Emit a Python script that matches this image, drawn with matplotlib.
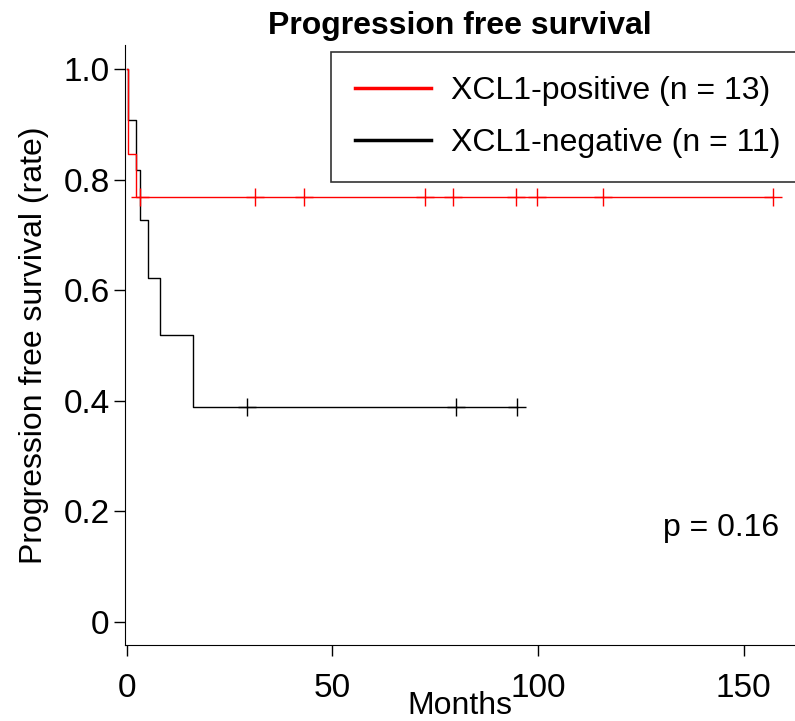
import matplotlib
matplotlib.use('Agg')
import matplotlib.pyplot as plt

plt.rcParams['font.family'] = ['Liberation Sans', 'DejaVu Sans']

# step curves (time in months, survival rate)
pos_times = [0, 0.3, 2.1, 157.1]
pos_surv = [1.0, 0.846, 0.769, 0.769]
neg_times = [0, 0.3, 2.1, 3.1, 5.2, 8.1, 16.0, 95.0]
neg_surv = [1.0, 0.909, 0.818, 0.727, 0.623, 0.519, 0.389, 0.389]

# censored observations
pos_cens_t = [3.2, 31.1, 43.2, 72.5, 79.4, 94.6, 99.7, 115.8, 157.1]
pos_cens_s = [0.769] * len(pos_cens_t)
neg_cens_t = [29.1, 80.1, 95.0]
neg_cens_s = [0.389] * len(neg_cens_t)

labels = ['XCL1-positive (n = 13)', 'XCL1-negative (n = 11)']
colors = ['#ff0000', 'black']
xticks = [0, 50, 100, 150]
yticks = [0, 0.2, 0.4, 0.6, 0.8, 1.0]
yticklabels = ['0', '0.2', '0.4', '0.6', '0.8', '1.0']

fs = 23

fig = plt.figure(figsize=(7.95, 7.21), dpi=100)
ax = fig.add_axes([0.157, 0.1054, 0.843, 0.8322])

ax.step(neg_times, neg_surv, where='post', color=colors[1], lw=1)
ax.plot(neg_cens_t, neg_cens_s, '+', color=colors[1], ms=13, mew=1)
ax.step(pos_times, pos_surv, where='post', color=colors[0], lw=1)
ax.plot(pos_cens_t, pos_cens_s, '+', color=colors[0], ms=13, mew=1)

ax.set_xlim(-0.5, 162.5)
ax.set_ylim(-0.042, 1.044)
ax.set_xticks(xticks)
ax.set_yticks(yticks)
ax.set_yticklabels(yticklabels)
ax.tick_params(labelsize=fs + 1, length=8, width=1, direction='out')
ax.tick_params(axis='y', pad=3)
ax.tick_params(axis='x', pad=12)
ax.spines['top'].set_visible(False)
ax.spines['right'].set_visible(False)

ax.set_xlabel('Months', fontsize=fs, labelpad=-9)
ax.set_ylabel('Progression free survival (rate)', fontsize=fs, labelpad=10)
ax.set_title('Progression free survival', fontsize=fs, fontweight='bold', pad=8)

h1, = ax.plot([], [], color=colors[0], lw=2.5)
h2, = ax.plot([], [], color=colors[1], lw=2.5)
leg = fig.legend([h1, h2], labels, loc='upper left', bbox_to_anchor=(0.416, 0.928),
                 fontsize=fs, frameon=True, fancybox=False, edgecolor='black',
                 handlelength=2.4, handletextpad=0.6, borderpad=0.75,
                 labelspacing=0.7, borderaxespad=0)
leg.get_frame().set_linewidth(1.2)

ax.text(158.7, 0.17, 'p = 0.16', fontsize=fs, ha='right', va='center')

fig.savefig('out.png', dpi=100)
